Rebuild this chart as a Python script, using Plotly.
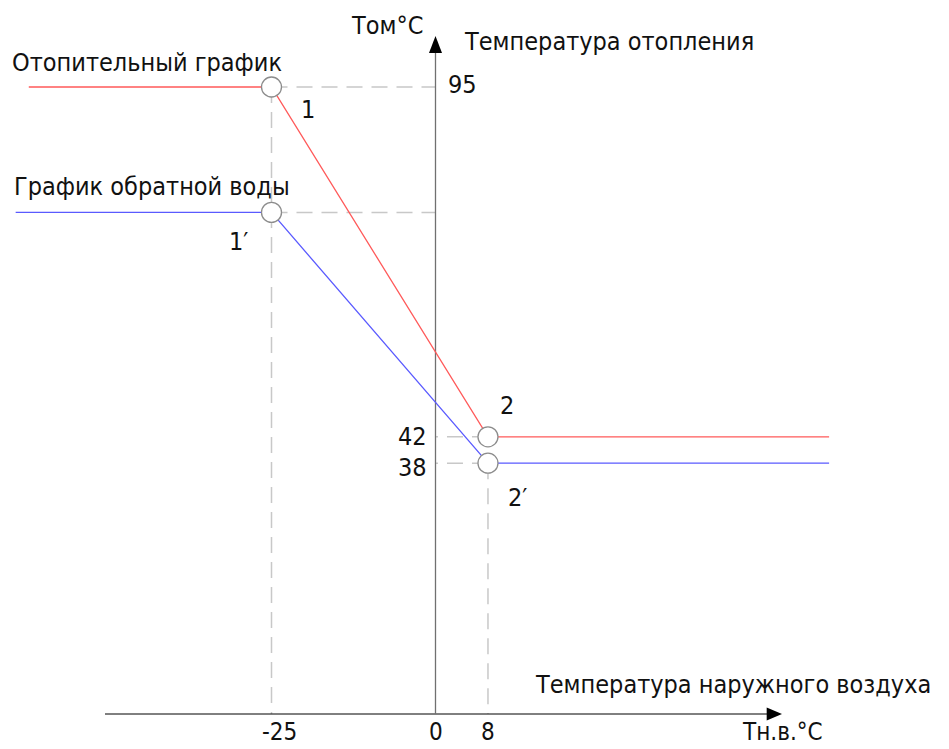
import plotly.graph_objects as go

# ---- data ----
heat_x = [-62, -25, 8, 60]
heat_y = [95, 95, 42, 42]
ret_x = [-64, -25, 8, 60]
ret_y = [76, 76, 38, 38]

point_x = [-25, -25, 8, 8]
point_y = [95, 76, 42, 38]
point_labels = ["1", "1′", "2", "2′"]

x_tick_vals = [-25, 0, 8]
x_tick_text = ["-25", "0", "8"]
y_tick_vals = [95, 42, 38]
y_tick_text = ["95", "42", "38"]

# ---- layout geometry (pixel-calibrated; page has an 8px body margin) ----
W, H = 949, 749
OFF = 8
PX_X = 6.56   # px per degree on x
PX_Y = 6.6    # px per degree on y
X0_PX = 435.5 - OFF
Y0_PX = 714.0 - OFF
x_range = [-X0_PX / PX_X, (W - X0_PX) / PX_X]
y_range = [-(H - Y0_PX) / PX_Y, Y0_PX / PX_Y]

def px2x(p):
    return (p - OFF - X0_PX) / PX_X

def px2y(p):
    return (Y0_PX - (p - OFF)) / PX_Y

FONT = "DejaVu Sans Condensed, Liberation Sans Narrow, DejaVu Sans, sans-serif"
FS = 25
DASH_COLOR = "#c8c8c8"
DASH = "16px,9px"

fig = go.Figure()

# dashed guide lines
guides = [
    ([point_x[0], 0], [point_y[0], point_y[0]]),
    ([point_x[1], 0], [point_y[1], point_y[1]]),
    ([point_x[2], 0], [point_y[2], point_y[2]]),
    ([point_x[3], 0], [point_y[3], point_y[3]]),
    ([point_x[0], point_x[0]], [point_y[0], 0]),
    ([point_x[3], point_x[3]], [point_y[3], 0]),
]
for gx, gy in guides:
    fig.add_trace(go.Scatter(x=gx, y=gy, mode="lines",
                             line=dict(color=DASH_COLOR, width=1.5, dash=DASH),
                             hoverinfo="skip", showlegend=False))

# axes
fig.add_trace(go.Scatter(x=[px2x(105), px2x(768)], y=[0, 0], mode="lines",
                         line=dict(color="#000000", width=1), showlegend=False))
fig.add_trace(go.Scatter(x=[0, 0], y=[0, px2y(50)], mode="lines",
                         line=dict(color="#707070", width=1.3), showlegend=False))

# arrowheads
fig.add_shape(type="path",
              path=f"M {px2x(766.7)},{px2y(707.5)} L {px2x(782)},{0} L {px2x(766.7)},{px2y(720.5)} Z",
              fillcolor="#000000", line=dict(width=0))
fig.add_shape(type="path",
              path=f"M {px2x(429)},{px2y(53)} L {0},{px2y(36)} L {px2x(442)},{px2y(53)} Z",
              fillcolor="#000000", line=dict(width=0))

# graphs
fig.add_trace(go.Scatter(x=heat_x, y=heat_y, mode="lines",
                         line=dict(color="#ff5a5a", width=1.3), showlegend=False))
fig.add_trace(go.Scatter(x=ret_x, y=ret_y, mode="lines",
                         line=dict(color="#5a5aff", width=1.3), showlegend=False))

# key points
fig.add_trace(go.Scatter(x=point_x, y=point_y, mode="markers",
                         marker=dict(size=20, color="white",
                                     line=dict(color="#8c8c8c", width=1.3)),
                         showlegend=False))

def txt(x, y, s, xanchor="center", yanchor="middle", size=FS, xshift=0, yshift=0):
    fig.add_annotation(x=x, y=y, text=s, showarrow=False, xanchor=xanchor,
                       yanchor=yanchor, xshift=xshift, yshift=yshift,
                       font=dict(family=FONT, size=size, color="#111111"))

# point labels
label_off = [(36, -22), (-33, -29), (19, 31), (30, -34)]
for px_, py_, lab, (dx, dy) in zip(point_x, point_y, point_labels, label_off):
    txt(px_, py_, lab, xshift=dx, yshift=dy)

# y tick labels
txt(0, y_tick_vals[0], y_tick_text[0], xanchor="left", xshift=10, yshift=3)
txt(0, y_tick_vals[1], y_tick_text[1], xanchor="right", xshift=-7, yshift=0)
txt(0, y_tick_vals[2], y_tick_text[2], xanchor="right", xshift=-7, yshift=-4)

# x tick labels
for v, t in zip(x_tick_vals, x_tick_text):
    txt(v, 0, t, yshift=-18, size=24, xshift=(8 if v == -25 else 0))

# axis titles and series names
txt(px2x(387), px2y(25), "Tом°C")
txt(px2x(462), px2y(41), "Температура отопления", xanchor="left")
txt(px2x(533), px2y(684), "Температура наружного воздуха", xanchor="left")
txt(px2x(782), px2y(732), "Тн.в.°C", size=24)
txt(px2x(10), px2y(62), "Отопительный график", xanchor="left")
txt(px2x(12), px2y(186), "График обратной воды", xanchor="left")

fig.update_layout(
    width=W, height=H,
    margin=dict(l=0, r=0, t=0, b=0),
    paper_bgcolor="white", plot_bgcolor="white",
    xaxis=dict(range=x_range, visible=False, fixedrange=True),
    yaxis=dict(range=y_range, visible=False, fixedrange=True),
    showlegend=False,
)

fig.write_html("out.html")
